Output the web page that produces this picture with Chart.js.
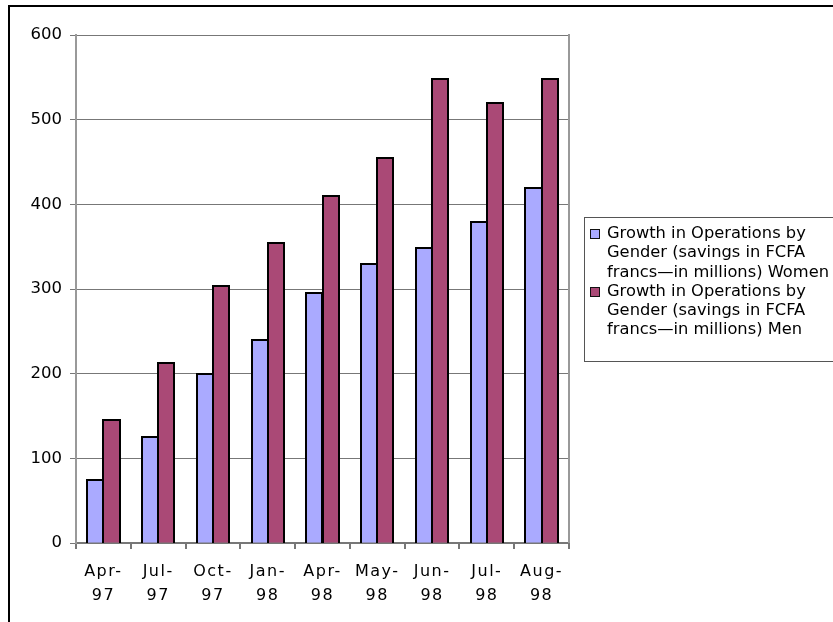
<!DOCTYPE html>
<html>
<head>
<meta charset="utf-8">
<title>Growth in Operations by Gender</title>
<script src="https://cdn.jsdelivr.net/npm/chart.js@4.4.1/dist/chart.umd.min.js"></script>
<style>
  body { margin: 0; background: #fff; }
  #wrap { position: relative; width: 833px; height: 622px; overflow: hidden; }
  #frame { position: absolute; left: 8px; top: 5px; width: 900px; height: 700px;
           border-top: 2px solid #000; border-left: 2px solid #000; }
  #myChart { position: absolute; left: 0; top: 0; }
  #legend { position: absolute; left: 584px; top: 217px; width: 270px; height: 145px;
            border: 1px solid #555; box-sizing: border-box; padding-top: 5px;
            font-family: "DejaVu Sans", Verdana, sans-serif; font-size: 16.3px; color: #000; }
  .item { position: relative; padding-left: 22px; line-height: 19.3px; white-space: nowrap; }
  .swatch { position: absolute; left: 5px; top: 6px; width: 8px; height: 8px; border: 1px solid #111; }
</style>
</head>
<body>
<div id="wrap">
  <div id="frame"></div>
  <canvas id="myChart" width="833" height="622"></canvas>
  <div id="legend"></div>
</div>
<script>
// months on the x axis, split over two lines
var months = [['Apr-', '97'], ['Jul-', '97'], ['Oct-', '97'], ['Jan-', '98'], ['Apr-', '98'],
              ['May-', '98'], ['Jun-', '98'], ['Jul-', '98'], ['Aug-', '98']];

// savings in FCFA francs, millions
var women = [75, 125, 200, 240, 295, 330, 348, 379, 419];
var men = [145, 213, 303, 354, 410, 455, 548, 520, 548];

// legend text, already broken into lines
var womenLabel = ['Growth in Operations by', 'Gender (savings in FCFA', 'francs\u2014in millions) Women'];
var menLabel = ['Growth in Operations by', 'Gender (savings in FCFA', 'francs\u2014in millions) Men'];

var yTicks = [0, 100, 200, 300, 400, 500, 600];

var womenColor = '#aaaaff';
var menColor = '#aa4976';
var fontFamily = '"DejaVu Sans", Verdana, sans-serif';

// gray line down the right side of the plot area
var plotBorder = {
    id: 'plotBorder',
    afterDraw: function(chart) {
        var a = chart.chartArea, ctx = chart.ctx;
        ctx.save();
        ctx.strokeStyle = '#999';
        ctx.lineWidth = 2;
        ctx.beginPath();
        ctx.moveTo(a.right, a.top - 1);
        ctx.lineTo(a.right, a.bottom);
        ctx.stroke();
        ctx.restore();
    }
};

// black outline on top and sides of every bar, snapped to whole pixels
var barOutline = {
    id: 'barOutline',
    afterDatasetsDraw: function(chart) {
        var ctx = chart.ctx;
        ctx.save();
        ctx.strokeStyle = '#000';
        ctx.lineWidth = 2;
        chart.data.datasets.forEach(function(ds, i) {
            chart.getDatasetMeta(i).data.forEach(function(bar) {
                var p = bar.getProps(['x', 'y', 'base', 'width'], true);
                var left = Math.round(p.x - p.width / 2);
                var right = Math.round(p.x + p.width / 2);
                var top = Math.round(p.y);
                var base = Math.round(p.base);
                ctx.beginPath();
                ctx.moveTo(left, base);
                ctx.lineTo(left, top);
                ctx.lineTo(right, top);
                ctx.lineTo(right, base);
                ctx.stroke();
            });
        });
        ctx.restore();
    }
};

// spread out the letters of the month labels
var spacedLabels = {
    id: 'spacedLabels',
    beforeDraw: function(chart) {
        var xs = chart.scales.x;
        if (xs._spaced) return;
        var orig = xs.drawLabels;
        xs.drawLabels = function(area) {
            var ctx = this.ctx;
            ctx.save();
            ctx.letterSpacing = '1.5px';
            orig.call(this, area);
            ctx.restore();
        };
        xs._spaced = true;
    }
};

var ctx = document.getElementById('myChart').getContext('2d');
var chart = new Chart(ctx, {
    type: 'bar',
    data: {
        labels: months,
        datasets: [
            {
                label: womenLabel.join(' '),
                data: women,
                backgroundColor: womenColor,
                borderWidth: 0
            },
            {
                label: menLabel.join(' '),
                data: men,
                backgroundColor: menColor,
                borderWidth: 0
            }
        ]
    },
    options: {
        responsive: false,
        animation: false,
        datasets: { bar: { barPercentage: 1.0, categoryPercentage: 0.59 } },
        layout: { padding: { left: 10, top: 35, right: 264, bottom: 0 } },
        plugins: { legend: { display: false }, tooltip: { enabled: false } },
        scales: {
            x: {
                afterFit: function(scale) { scale.height = 79; },
                grid: { offset: true, drawOnChartArea: false, drawTicks: true, tickLength: 6, tickColor: '#777', lineWidth: 2 },
                border: { display: true, color: '#777', width: 2 },
                ticks: {
                    color: '#000',
                    padding: 10,
                    maxRotation: 0,
                    autoSkip: false,
                    font: { family: fontFamily, size: 16, lineHeight: 1.55 }
                }
            },
            y: {
                min: yTicks[0],
                max: yTicks[yTicks.length - 1],
                afterFit: function(scale) { scale.width = 66; },
                afterBuildTicks: function(scale) {
                    scale.ticks = yTicks.map(function(v) { return { value: v }; });
                },
                grid: { color: '#777', lineWidth: 1, tickLength: 6, tickColor: '#777' },
                border: { display: true, color: '#999', width: 2 },
                ticks: {
                    color: '#000',
                    padding: 8,
                    font: { family: fontFamily, size: 16.5 }
                }
            }
        }
    },
    plugins: [barOutline, plotBorder, spacedLabels]
});
chart.draw();

// legend built from the dataset labels
var legend = document.getElementById('legend');
[[womenLabel, womenColor], [menLabel, menColor]].forEach(function(entry) {
    var item = document.createElement('div');
    item.className = 'item';
    var sw = document.createElement('span');
    sw.className = 'swatch';
    sw.style.background = entry[1];
    item.appendChild(sw);
    entry[0].forEach(function(line, i) {
        if (i > 0) item.appendChild(document.createElement('br'));
        item.appendChild(document.createTextNode(line));
    });
    legend.appendChild(item);
});
</script>
</body>
</html>
